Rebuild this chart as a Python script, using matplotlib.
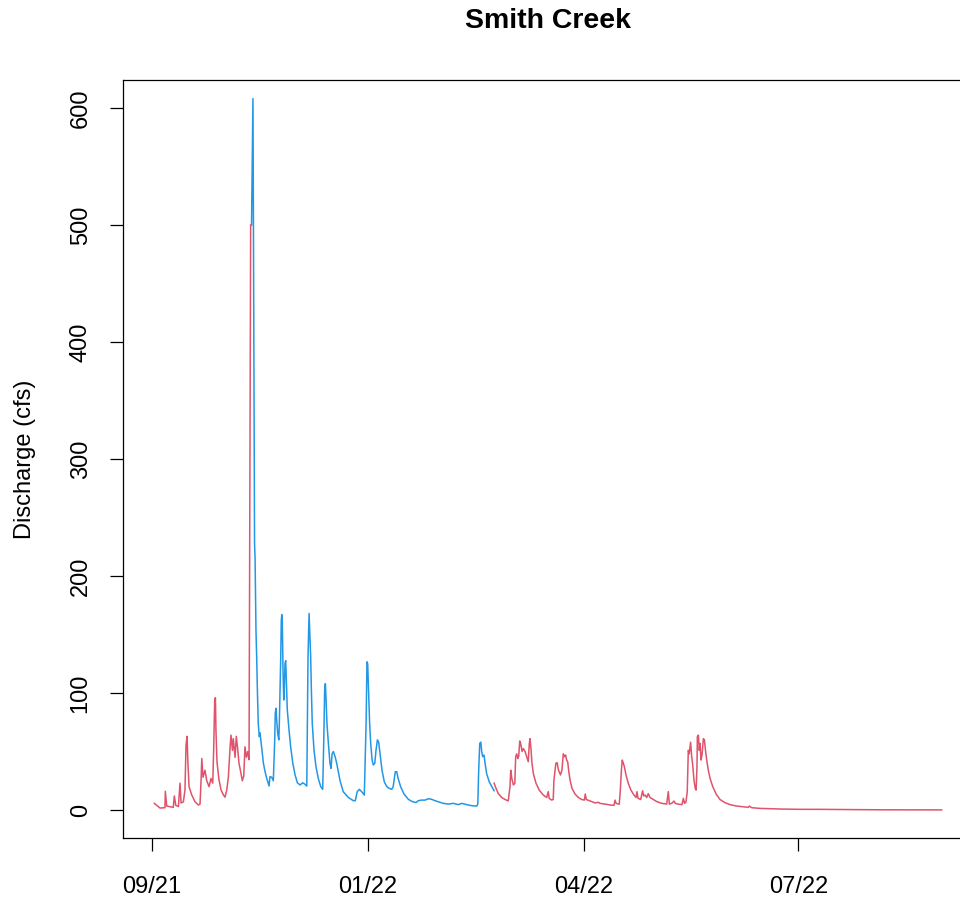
import matplotlib
matplotlib.use("Agg")
import matplotlib.pyplot as plt

plt.rcParams['font.family'] = ['Liberation Sans', 'DejaVu Sans']

# x = days since the 09/21 tick; y = discharge (cfs)
red1_day = [1.3, 4.5, 7.3, 7.5, 8.3, 12.0, 12.6, 13.4, 14.9, 15.8, 16.4, 17.7, 18.6, 19.2,
            19.8, 20.2, 20.9, 22.4, 24.3, 26.2, 27.1, 27.7, 28.1, 28.8, 29.9, 30.9, 32.2,
            33.3, 34.3, 34.8, 35.4, 35.8, 36.1, 36.7, 37.8, 39.0, 40.3, 41.2, 42.2, 43.1,
            44.1, 44.6, 45.4, 45.9, 46.9, 47.6, 48.4, 49.1, 49.9, 51.0, 51.8, 52.5, 53.3,
            54.1, 54.8, 55.7]
red1_q = [5.7, 1.7, 2.0, 16, 3.4, 2.3, 12, 4, 3, 23, 6, 7, 17, 55.6,
          63, 43, 20, 13, 7, 4.3, 5, 25.6, 44, 28, 34, 25, 20,
          27, 23, 51, 94, 96, 68, 41, 26, 17, 13, 11, 17, 28,
          54, 64, 51, 61, 45, 63, 52, 40, 34, 25, 29, 54, 45,
          50, 43, 500]

blue_day = [56.2, 57.0, 57.3, 57.9, 58.2, 58.6, 58.7, 59.1, 59.5, 60.0, 60.6, 61.0, 61.6,
            62.1, 62.9, 63.8, 64.8, 66.1, 66.6, 67.6, 68.5, 69.3, 69.6, 70.0, 70.4, 71.0,
            71.6, 71.9, 72.7, 73.0, 73.3, 73.6, 74.0, 74.4, 74.7, 75.1, 75.5, 75.9, 76.4,
            77.4, 78.3, 79.5, 80.8, 82.1, 83.6, 85.1, 86.4, 87.4, 88.1, 88.7, 89.1, 89.6,
            90.0, 90.5, 91.5, 92.6, 93.9, 95.3, 96.4, 97.0, 97.5, 97.9, 98.3, 98.8, 99.6,
            100.5, 101.1, 101.7, 102.4, 103.4, 104.3, 106.2, 108.0, 110.9, 113.7, 114.8,
            115.9, 117.1, 118.4, 119.9, 120.9, 121.4, 121.8, 122.4, 122.9, 123.5, 124.3,
            125.0, 125.8, 126.5, 127.3, 128.0, 128.8, 129.9, 131.2, 132.6, 134.0, 135.4,
            136.2, 137.4, 138.2, 139.0, 140.4, 142.3, 144.8, 147.2, 149.1, 150.4, 152.3,
            154.2, 156.1, 158.0, 159.8, 161.7, 164.5, 167.4, 170.2, 173.0, 174.9, 177.7,
            180.6, 183.4, 184.0, 184.5, 185.1, 185.7, 186.2, 186.8, 187.5, 188.1, 189.0,
            190.5, 191.9, 193.2]
blue_q = [500, 608, 490, 228, 215, 165, 154, 131, 102.6, 74, 62.7, 66, 58,
          51, 40, 33, 27, 20.5, 28.5, 28, 25, 60, 82.6, 87, 77, 65.5,
          60, 74, 131, 162, 167, 159.6, 117, 94, 102.6, 125, 127.6, 108, 85.5,
          68, 54, 40, 30, 23.3, 21.4, 23.3, 22, 20.5, 131, 168, 151, 131,
          102.6, 74, 51, 37, 27, 20, 17.7, 60, 102.6, 108, 94, 74, 57,
          40, 35.6, 48, 50, 45.6, 40, 25, 15.7, 10.7, 8, 8,
          15.7, 17.7, 15.7, 12.8, 74, 126.7, 125, 97, 74, 57, 42.7,
          38.5, 40, 51, 60, 58, 48, 34, 24, 20, 18.5, 17.7,
          20, 32.8, 32.8, 27, 20, 13.7, 9.1, 7.1, 6.4, 8, 8.5,
          8.5, 9.7, 9.1, 8, 7.1, 5.7, 5.1, 5.7, 4.6, 5.7, 4.6,
          3.7, 3.4, 5, 34, 57, 58, 50, 45.6, 47, 40, 31,
          24, 20, 16.5]

red2_day = [193.2, 194.3, 195.6, 197.5, 199.4, 201.2, 202.2, 202.6, 203.2, 204.1, 204.9,
            205.4, 206.0, 206.6, 207.1, 207.7, 208.2, 209.0, 209.7, 210.7, 211.6, 212.5,
            213.1, 213.5, 214.1, 214.6, 215.4, 216.9, 218.7, 221.0, 222.9, 223.8, 224.3,
            225.7, 226.6, 227.0, 228.1, 228.8, 229.6, 230.7, 231.5, 232.3, 233.0, 233.6,
            234.2, 234.8, 235.3, 236.1, 237.2, 238.9, 240.8, 242.7, 244.2, 244.7, 245.3,
            247.4, 250.2, 252.1, 253.0, 255.9, 258.7, 260.9, 261.5, 262.1, 263.9, 264.5,
            265.1, 265.6, 266.2, 266.8, 267.7, 269.0, 270.5, 272.2, 273.4, 273.9, 274.5,
            276.0, 277.1, 277.7, 278.5, 279.4, 280.3, 281.3, 283.1, 285.1, 287.9, 290.7,
            291.6, 292.2, 293.5, 294.8, 295.5, 297.3, 299.3, 300.1, 300.8, 301.6, 302.3,
            302.9, 303.4, 304.2, 304.8, 305.3, 306.1, 306.8, 307.3, 307.8, 308.0, 308.6,
            309.1, 309.5, 310.1, 310.7, 311.4, 312.0, 312.6, 313.3, 314.2, 315.2, 316.7,
            318.6, 320.8, 323.6, 326.5, 330.2, 334.0, 336.8, 337.4, 338.7, 343.4, 349.1,
            356.6, 366.0, 375.4, 411.2, 446.0]
red2_q = [23, 18.5, 14, 10.7, 9, 7.8, 20, 34, 27, 21.4, 22.8,
          45.6, 48, 44, 46, 59, 57, 50, 52.6, 50, 45.6, 41.3,
          57, 61, 51, 40, 31, 22.8, 17, 12.8, 10.7, 15.7, 10,
          8.5, 9, 25.6, 40, 40.5, 34, 30, 34, 48, 45.6, 47,
          42.7, 41, 34, 25.6, 18.5, 13.7, 10.7, 9, 8.5, 13.7, 9,
          7.8, 6.1, 6.6, 5.7, 5.1, 4.3, 4, 8.5, 5.7, 5, 17,
          34, 42.7, 40, 37, 30, 22.8, 17, 12.8, 10.7, 15.7, 10,
          9, 16.5, 12, 12.8, 10.7, 14, 10.7, 9, 7.2, 5.7, 5.1,
          15.7, 5.1, 5.7, 7.7, 5.7, 5, 4.6, 10, 5.7, 7, 15.7,
          51, 48, 58, 45.6, 40, 25.6, 18.5, 17, 37, 62.7, 64,
          51, 57, 42.7, 48, 61, 60, 51, 42.7, 34, 27, 20,
          13.7, 9, 6.3, 4.6, 3.4, 2.8, 2.3, 3.4, 2, 1.4, 1.1,
          0.8, 0.6, 0.6, 0.2, 0.1]

tick_days = [0, 122, 244, 365]
tick_labels = ["09/21", "01/22", "04/22", "07/22"]
y_ticks = [0, 100, 200, 300, 400, 500, 600]

RED = "#DF536B"
BLUE = "#2297E6"

W, H = 960, 897
fig = plt.figure(figsize=(W / 100, H / 100), dpi=100)
ax = fig.add_axes([123 / W, 1 - 838 / H, 850 / W, 758 / H])

ax.plot(red1_day, red1_q, color=RED, lw=1.1)
ax.plot(blue_day, blue_q, color=BLUE, lw=1.1)
ax.plot(red2_day, red2_q, color=RED, lw=1.1)

ax.set_xlim(-16.4, 463.7)
ax.set_ylim(-23.9, 623.9)

ax.set_xticks(tick_days)
ax.set_xticklabels(tick_labels)
ax.set_yticks(y_ticks)
ax.set_yticklabels([str(v) for v in y_ticks], rotation=90, va='center')

ax.tick_params(axis='both', length=9.5, width=0.9, labelsize=17, color='black')
ax.tick_params(axis='x', pad=17.5)
ax.tick_params(axis='y', pad=13)
for s in ax.spines.values():
    s.set_linewidth(0.9)
    s.set_color('black')

ax.set_ylabel("Discharge (cfs)", fontsize=17, labelpad=24)
fig.text(548 / W, 1 - 21 / H, "Smith Creek", ha='center', va='center',
         fontsize=20.5, fontweight='bold')

fig.savefig("out.png", dpi=100)
